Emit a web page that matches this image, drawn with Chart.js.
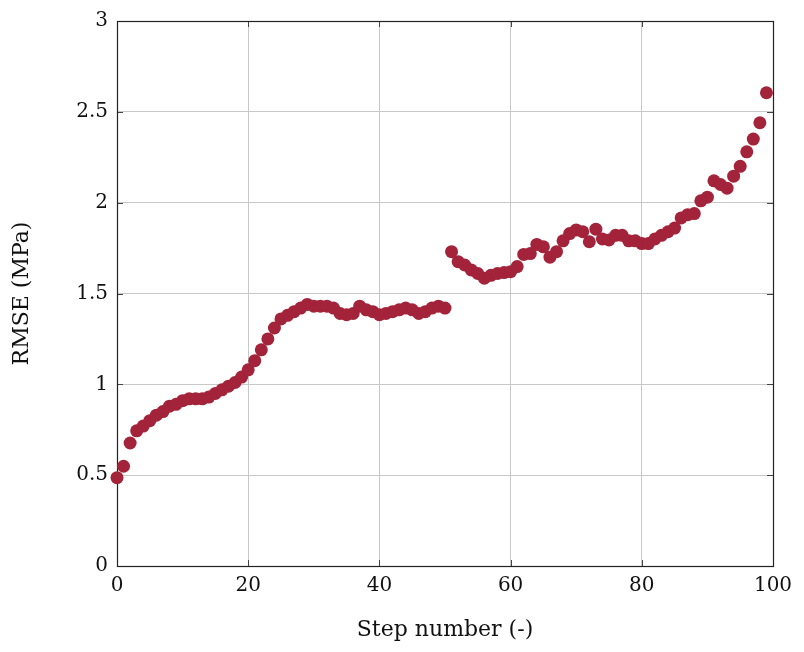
<!DOCTYPE html>
<html>
<head>
<meta charset="utf-8">
<script src="https://cdn.jsdelivr.net/npm/chart.js@4"></script>
<style>
html,body{margin:0;padding:0;background:#fff;}
#wrap{width:804px;height:652px;position:relative;}
</style>
</head>
<body>
<div id="wrap"><canvas id="c" width="804" height="652"></canvas></div>
<script>
const steps = [0,1,2,3,4,5,6,7,8,9,10,11,12,13,14,15,16,17,18,19,20,21,22,23,24,25,26,27,28,29,30,31,32,33,34,35,36,37,38,39,40,41,42,43,44,45,46,47,48,49,50,51,52,53,54,55,56,57,58,59,60,61,62,63,64,65,66,67,68,69,70,71,72,73,74,75,76,77,78,79,80,81,82,83,84,85,86,87,88,89,90,91,92,93,94,95,96,97,98,99];
const rmse = [0.486,0.549,0.677,0.744,0.77,0.80,0.83,0.85,0.88,0.89,0.91,0.92,0.92,0.92,0.93,0.95,0.97,0.99,1.01,1.04,1.08,1.13,1.19,1.25,1.31,1.36,1.38,1.40,1.42,1.44,1.43,1.43,1.43,1.42,1.39,1.383,1.39,1.43,1.41,1.40,1.383,1.39,1.40,1.41,1.42,1.41,1.39,1.40,1.42,1.43,1.42,1.73,1.675,1.657,1.63,1.61,1.584,1.60,1.61,1.615,1.62,1.648,1.715,1.72,1.77,1.757,1.70,1.73,1.79,1.83,1.85,1.84,1.785,1.854,1.80,1.795,1.82,1.82,1.79,1.79,1.775,1.775,1.80,1.82,1.84,1.86,1.916,1.934,1.94,2.01,2.03,2.12,2.10,2.08,2.146,2.20,2.28,2.35,2.44,2.605];
const xTicks = [0,20,40,60,80,100];
const yTicks = [0,0.5,1,1.5,2,2.5,3];
const xTitle = 'Step number (-)';
const yTitle = 'RMSE (MPa)';

const FONT = "'DejaVu Serif','Liberation Serif',serif";
const pts = steps.map((s,i)=>({x:s,y:rmse[i]}));

const framePlugin = {
  id:'frame',
  beforeDatasetsDraw(chart){
    const {ctx, chartArea:a, scales} = chart;
    ctx.save();
    ctx.strokeStyle = '#444';
    ctx.lineWidth = 1;
    const tl = 6;
    ctx.beginPath();
    xTicks.forEach(v=>{
      const px = Math.round(scales.x.getPixelForValue(v))+0.5;
      ctx.moveTo(px,a.bottom); ctx.lineTo(px,a.bottom-tl);
      ctx.moveTo(px,a.top); ctx.lineTo(px,a.top+tl);
    });
    yTicks.forEach(v=>{
      const py = Math.round(scales.y.getPixelForValue(v))+0.5;
      ctx.moveTo(a.left,py); ctx.lineTo(a.left+tl,py);
      ctx.moveTo(a.right,py); ctx.lineTo(a.right-tl,py);
    });
    ctx.stroke();
    ctx.strokeStyle = '#222';
    ctx.lineWidth = 1.2;
    ctx.strokeRect(a.left+0.5,a.top+0.5,a.right-a.left,a.bottom-a.top);
    ctx.restore();
  }
};

new Chart(document.getElementById('c'),{
  type:'scatter',
  data:{datasets:[{
    data:pts,
    backgroundColor:'#a3233a',
    borderColor:'#a3233a',
    pointRadius:6.5,
    pointHoverRadius:6.5,
    borderWidth:0,
    clip:false
  }]},
  options:{
    responsive:false,
    animation:false,
    events:[],
    layout:{padding:{left:0,right:31,top:18,bottom:0}},
    plugins:{legend:{display:false},tooltip:{enabled:false}},
    scales:{
      x:{
        type:'linear',min:0,max:100,
        afterBuildTicks(s){s.ticks = xTicks.map(v=>({value:v}));},
        afterFit(s){s.height = 86;},
        grid:{color:'#c8c8c8',lineWidth:1,drawTicks:false},
        border:{display:false},
        ticks:{color:'#111',font:{family:FONT,size:20},padding:8,maxRotation:0,callback:v=>String(v)},
        title:{display:true,text:xTitle,color:'#111',font:{family:FONT,size:22},padding:{top:4,bottom:9}}
      },
      y:{
        type:'linear',min:0,max:3,
        afterBuildTicks(s){s.ticks = yTicks.map(v=>({value:v}));},
        afterFit(s){s.width = 117;},
        grid:{color:'#c8c8c8',lineWidth:1,drawTicks:false},
        border:{display:false},
        ticks:{color:'#111',font:{family:FONT,size:20},padding:9,callback:v=>String(v)},
        title:{display:true,text:yTitle,color:'#111',font:{family:FONT,size:22},padding:{top:9,bottom:10}}
      }
    }
  },
  plugins:[framePlugin]
});
</script>
</body>
</html>
